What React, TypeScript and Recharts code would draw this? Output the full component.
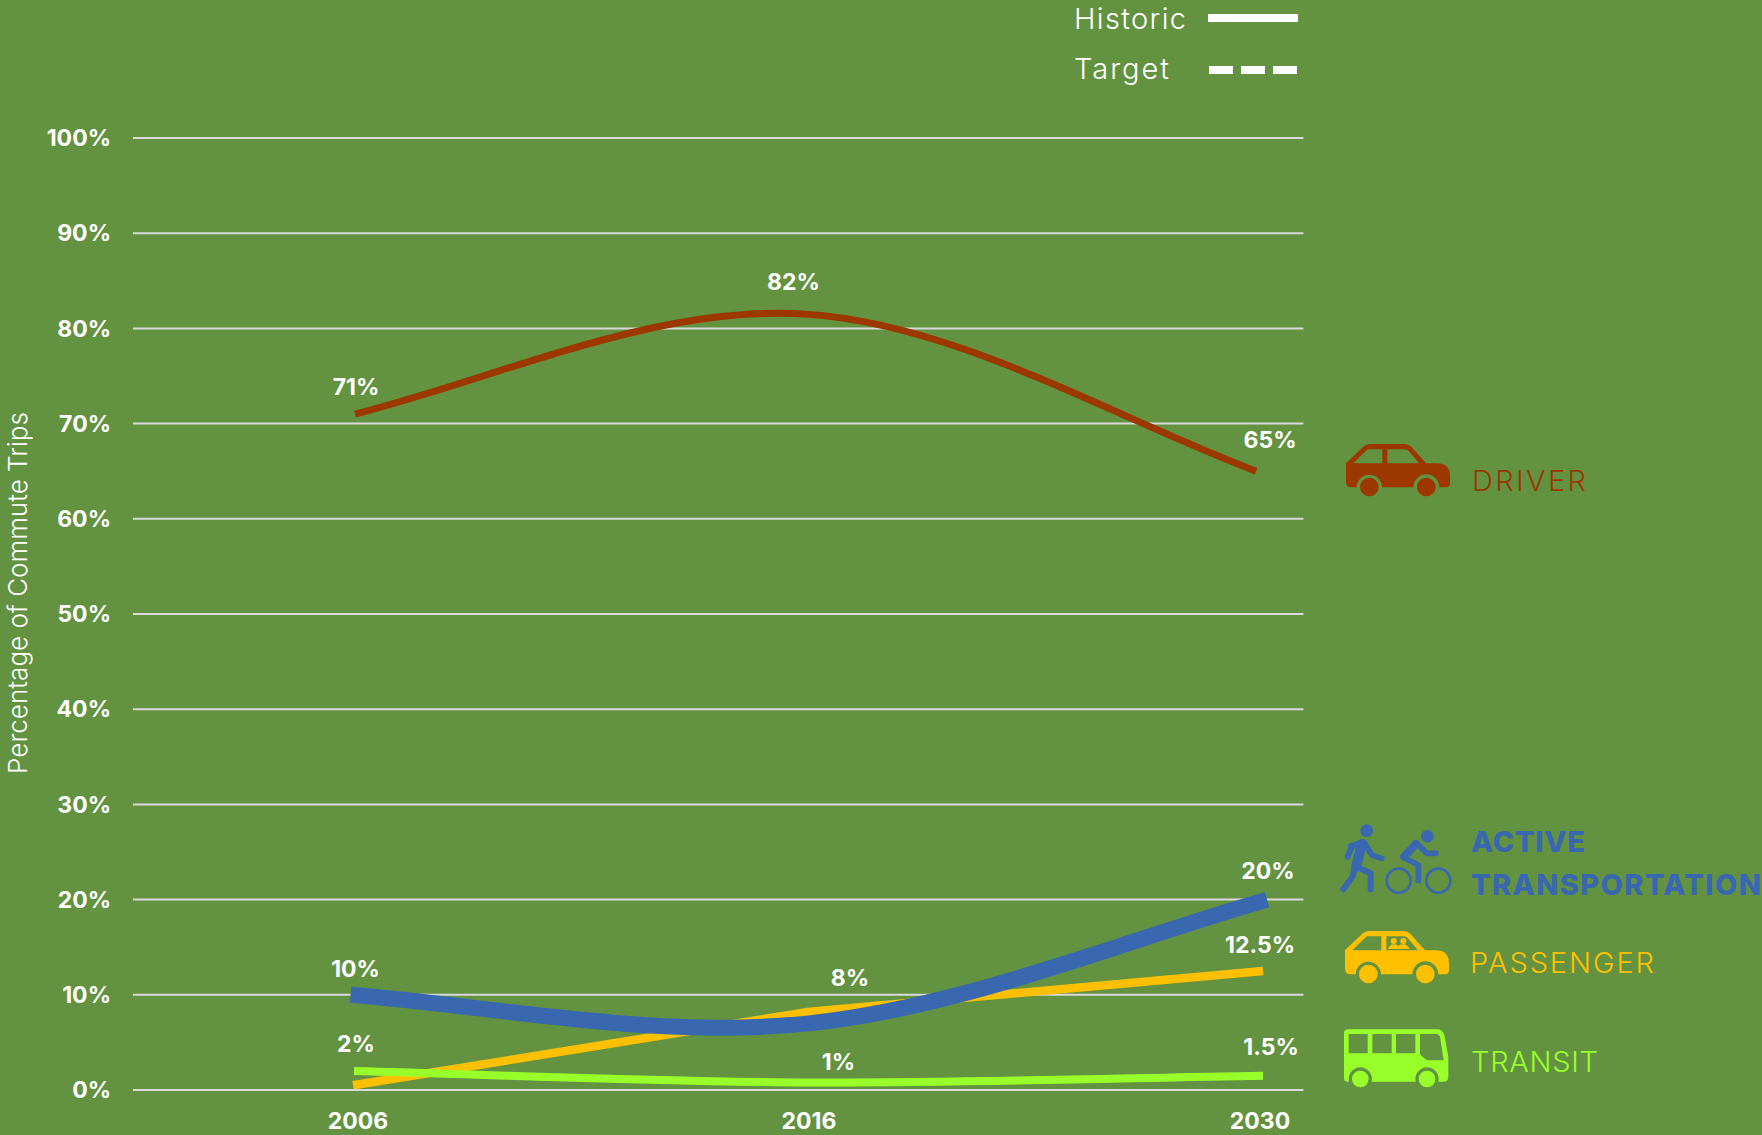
import React from "react";
import { LineChart, Line, XAxis, YAxis, CartesianGrid, LabelList } from "recharts";

const years = ["2006", "2016", "2030"];
const driver = [71, 81.5, 65];
const active = [10, 7, 20];
const passenger = [0.5, 8.2, 12.5];
const transit = [2, 0.8, 1.5];
const driverLabels = ["71%", "82%", "65%"];
const activeLabels = ["10%", "", "20%"];
const passengerLabels = ["", "8%", "12.5%"];
const transitLabels = ["2%", "1%", "1.5%"];
const yTicks = [0, 10, 20, 30, 40, 50, 60, 70, 80, 90, 100];

const tableData = years.map((year, i) => ({
  year,
  driver: driver[i],
  active: active[i],
  passenger: passenger[i],
  transit: transit[i],
  driverLabel: driverLabels[i],
  activeLabel: activeLabels[i],
  passengerLabel: passengerLabels[i],
  transitLabel: transitLabels[i],
}));

const FONT = "Inter, 'Noto Sans', sans-serif";
const BG = "#639341";
const BROWN = "#9C3700";
const BLUE = "#3968B0";
const AMBER = "#FFC000";
const LIME = "#99FF2B";

// Smoothed spline in the manner of an office-chart "smooth line"
function smoothCurve(context: any) {
  let pts: [number, number][] = [];
  const t = 1 / 6;
  const end = 0.12;
  return {
    areaStart() {},
    areaEnd() {},
    lineStart() {
      pts = [];
    },
    point(x: number, y: number) {
      pts.push([+x, +y]);
    },
    lineEnd() {
      const n = pts.length;
      if (!n) return;
      context.moveTo(pts[0][0], pts[0][1]);
      for (let i = 0; i < n - 1; i++) {
        const p0 = pts[i];
        const p1 = pts[i + 1];
        const prev = pts[i - 1];
        const next = pts[i + 2];
        const dx = p1[0] - p0[0];
        const chord = (p1[1] - p0[1]) / dx;
        let c1x: number, c1y: number, c2x: number, c2y: number;
        if (prev) {
          c1x = p0[0] + (p1[0] - prev[0]) * t;
          c1y = p0[1] + (p1[1] - prev[1]) * t;
        } else {
          const slope = chord * (1 + end) - (end * (next ? next[1] - p0[1] : 0)) / (2 * dx);
          c1x = p0[0] + dx / 3;
          c1y = p0[1] + (slope * dx) / 3;
        }
        if (next) {
          c2x = p1[0] - (next[0] - p0[0]) * t;
          c2y = p1[1] - (next[1] - p0[1]) * t;
        } else {
          const slope = chord * (1 + end) - (end * (p1[1] - prev[1])) / (2 * dx);
          c2x = p1[0] - dx / 3;
          c2y = p1[1] - (slope * dx) / 3;
        }
        context.bezierCurveTo(c1x, c1y, c2x, c2y, p1[0], p1[1]);
      }
    },
  };
}

const pointLabel = (offsets: [number, number][]) => (props: any) => {
  const { x, y, value, index } = props;
  if (!value) return null;
  const [dx, dy] = offsets[index];
  return (
    <text
      x={x + dx}
      y={y + dy}
      textAnchor="middle"
      dominantBaseline="central"
      fill="#fff"
      fontFamily={FONT}
      fontWeight={700}
      fontSize={23}
    >
      {value}
    </text>
  );
};

const driverOffsets: [number, number][] = [[1, -27], [-12, -32], [14, -31]];
const activeOffsets: [number, number][] = [[5, -26], [0, 0], [1, -29]];
const passengerOffsets: [number, number][] = [[0, 0], [42, -34], [-3, -26]];
const transitOffsets: [number, number][] = [[2, -27], [30, -20], [8, -29]];

const carOutline =
  "M78 130 L130 80 Q138 72 150 72 H250 Q265 72 275 82 L318 130 H350 Q390 130 390 170 V190 Q390 202 378 202 H358 A39 39 0 0 0 280 202 H186 A38 38 0 0 0 110 202 H95 Q78 202 78 185 Z M100 130 H187 V88 H143 Z M202 88 V130 H297 L268 95 Q262 88 255 88 Z";

function Car({ tx, ty, color, people }: { tx: number; ty: number; color: string; people?: boolean }) {
  return (
    <g transform={`translate(${tx} ${ty}) scale(${1 / 3})`} fill={color}>
      <path d={carOutline} fillRule="evenodd" />
      <circle cx={148} cy={201} r={28} />
      <circle cx={319} cy={201} r={28} />
      {people && (
        <g>
          <circle cx={224} cy={102} r={9} />
          <circle cx={253} cy={102} r={9} />
          <path d="M207 126 Q212 112 224 112 Q232 112 238 116 Q244 112 253 112 Q266 112 272 126 Z" />
        </g>
      )}
    </g>
  );
}

function Bus() {
  return (
    <g transform={`translate(1320 810) scale(${1 / 3})`} fill={LIME}>
      <path
        fillRule="evenodd"
        d="M72 670 Q72 658 84 658 H350 Q368 658 373 675 L385 740 V800 Q385 815 370 815 H355 A35 35 0 1 0 287 815 H155 A35 35 0 1 0 87 815 H82 Q72 815 72 805 Z M86 672 V730 H143 V672 Z M157 672 V730 H215 V672 Z M228 672 V730 H286 V672 Z M300 672 V733 Q318 751 325 751 H371 L360 680 Q358 672 350 672 Z"
      />
      <circle cx={121} cy={807} r={25} />
      <circle cx={321} cy={807} r={25} />
    </g>
  );
}

function WalkerCyclist() {
  return (
    <g
      transform={`translate(1320 810) scale(${1 / 3})`}
      fill="none"
      stroke={BLUE}
      strokeLinecap="round"
      strokeLinejoin="round"
    >
      <circle cx={140} cy={62} r={19} fill={BLUE} stroke="none" />
      <path d="M96 110 L83 140" strokeWidth={18} />
      <path d="M125 102 L108 172" strokeWidth={30} />
      <path d="M92 108 L132 96 L155 135 L185 145" strokeWidth={17} />
      <path d="M112 172 L152 190 V238" strokeWidth={18} />
      <path d="M103 175 L98 200 L70 238" strokeWidth={18} />
      <circle cx={322} cy={79} r={19} fill={BLUE} stroke="none" />
      <path d="M288 102 L252 140" strokeWidth={24} />
      <path d="M292 102 L320 130 H348" strokeWidth={17} />
      <path d="M250 142 L295 165 V212" strokeWidth={17} />
      <circle cx={236} cy={212} r={36} strokeWidth={8} />
      <circle cx={355} cy={212} r={36} strokeWidth={8} />
    </g>
  );
}

function SideText({ x, y, w, color, bold, children }: any) {
  return (
    <text
      x={x}
      y={y}
      fill={color}
      fontFamily={FONT}
      fontSize={29}
      fontWeight={bold ? 800 : 300}
      textLength={w}
      lengthAdjust="spacing"
    >
      {children}
    </text>
  );
}

const PLOT_L = 133;
const PLOT_R = 1303.5;
const pad = (start: number, end: number) => ({ left: start - PLOT_L, right: PLOT_R - end });

export default function App() {
  return (
    <div style={{ position: "absolute", left: 0, top: 0, width: 1762, height: 1135, background: BG, overflow: "hidden" }}>
      <LineChart
        width={1762}
        height={1135}
        data={tableData}
        margin={{ top: 138, right: 1762 - PLOT_R, bottom: 0, left: 0 }}
      >
        <CartesianGrid horizontal vertical={false} stroke="#d9d9d9" strokeWidth={2} xAxisId="main" />
        <XAxis xAxisId="driver" dataKey="year" scale="point" padding={pad(355, 1256)} hide height={0} />
        <XAxis xAxisId="active" dataKey="year" scale="point" padding={pad(350.6, 1267)} hide height={0} />
        <XAxis xAxisId="passenger" dataKey="year" scale="point" padding={pad(353, 1263)} hide height={0} />
        <XAxis xAxisId="transit" dataKey="year" scale="point" padding={pad(354, 1263)} hide height={0} />
        <XAxis
          xAxisId="main"
          dataKey="year"
          scale="point"
          padding={pad(358, 1260)}
          height={45}
          axisLine={false}
          tickLine={false}
          tickMargin={17}
          interval={0}
          tick={{ fill: "#fff", fontFamily: FONT, fontWeight: 700, fontSize: 23 }}
        />
        <YAxis
          width={PLOT_L}
          domain={[0, 100]}
          ticks={yTicks}
          interval={0}
          axisLine={false}
          tickLine={false}
          tickMargin={16}
          tickFormatter={(v: number) => `${v}%`}
          tick={{ fill: "#fff", fontFamily: FONT, fontWeight: 700, fontSize: 23 }}
          label={{
            value: "Percentage of Commute Trips",
            angle: -90,
            position: "insideLeft",
            dx: 13,
            dy: -21,
            style: { textAnchor: "middle", fill: "#fff", fontFamily: FONT, fontWeight: 300, fontSize: 26 },
          }}
        />
        <Line xAxisId="driver" dataKey="driver" type={smoothCurve as any} stroke={BROWN} strokeWidth={7} dot={false} isAnimationActive={false}>
          <LabelList dataKey="driverLabel" content={pointLabel(driverOffsets) as any} />
        </Line>
        <Line xAxisId="passenger" dataKey="passenger" type="linear" stroke={AMBER} strokeWidth={8.5} dot={false} isAnimationActive={false}>
          <LabelList dataKey="passengerLabel" content={pointLabel(passengerOffsets) as any} />
        </Line>
        <Line xAxisId="active" dataKey="active" type={smoothCurve as any} stroke={BLUE} strokeWidth={16} dot={false} isAnimationActive={false}>
          <LabelList dataKey="activeLabel" content={pointLabel(activeOffsets) as any} />
        </Line>
        <Line xAxisId="transit" dataKey="transit" type={smoothCurve as any} stroke={LIME} strokeWidth={8} dot={false} isAnimationActive={false}>
          <LabelList dataKey="transitLabel" content={pointLabel(transitOffsets) as any} />
        </Line>
      </LineChart>
      <svg width={1762} height={1135} style={{ position: "absolute", left: 0, top: 0, pointerEvents: "none" }}>
        <SideText x={1074} y={29} w={112} color="#fff">Historic</SideText>
        <SideText x={1074} y={79} w={95} color="#fff">Target</SideText>
        <line x1={1208} x2={1298} y1={18} y2={18} stroke="#fff" strokeWidth={8} />
        <line x1={1209} x2={1297} y1={70} y2={70} stroke="#fff" strokeWidth={8} strokeDasharray="24 8" />
        <Car tx={1320} ty={420} color={BROWN} />
        <SideText x={1472} y={491} w={114} color={BROWN}>DRIVER</SideText>
        <WalkerCyclist />
        <SideText x={1471} y={852} w={114} color={BLUE} bold>ACTIVE</SideText>
        <SideText x={1471} y={895} w={290} color={BLUE} bold>TRANSPORTATION</SideText>
        <Car tx={1319} ty={907} color={AMBER} people />
        <SideText x={1470} y={973} w={184} color={AMBER}>PASSENGER</SideText>
        <Bus />
        <SideText x={1471} y={1072} w={127} color={LIME}>TRANSIT</SideText>
      </svg>
    </div>
  );
}
